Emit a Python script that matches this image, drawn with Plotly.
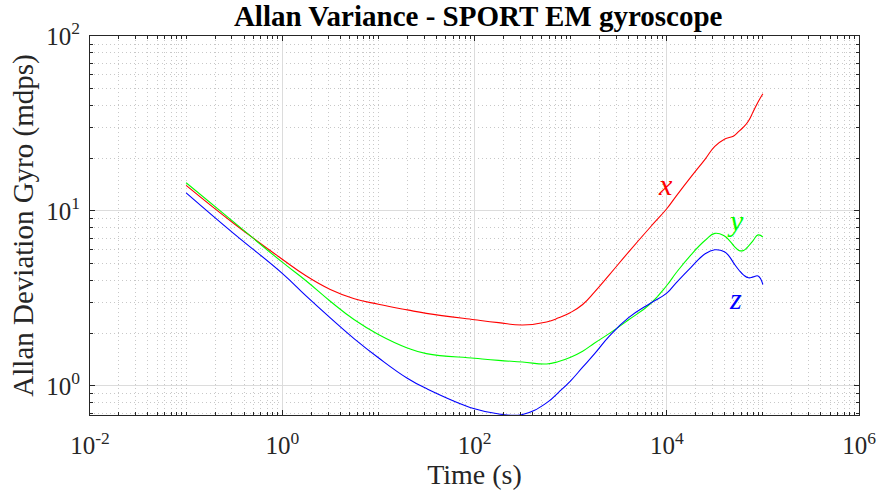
import plotly.graph_objects as go

# ---- data ----
tau = [0.1, 0.316, 1, 1.78, 3.16, 5.62, 10, 20, 31.6, 100, 178, 316, 562, 750, 1000, 1334, 1778,
       2512, 3981, 6761, 10000, 12589, 17783, 25119, 31623, 39811, 44668,
       50119, 56234, 63096, 70795, 79433, 89125, 100000]
adev_x = [14.0, 8.45, 5.3, 4.25, 3.56, 3.15, 2.93, 2.72, 2.60, 2.39, 2.30, 2.23, 2.32, 2.45, 2.63, 2.92, 3.45,
          4.3, 5.8, 8.1, 10.3, 12.2, 15.6, 19.8, 23.4, 25.7, 26.3,
          26.9, 28.5, 30.2, 32.7, 37.0, 42.0, 46.8]
adev_y = [14.5, 8.6, 5.1, 3.98, 3.05, 2.39, 1.97, 1.65, 1.53, 1.44, 1.40, 1.37, 1.335, 1.38, 1.46, 1.58, 1.76,
          1.99, 2.38, 2.95, 3.75, 4.45, 5.6, 6.8, 7.45, 7.2, 6.8,
          6.3, 5.95, 5.95, 6.3, 6.8, 7.3, 7.1]
adev_z = [12.7, 7.4, 4.4, 3.26, 2.45, 1.86, 1.45, 1.107, 0.966, 0.74, 0.692, 0.687, 0.80, 0.92, 1.07, 1.28, 1.53,
          1.92, 2.45, 2.97, 3.39, 3.9, 4.75, 5.7, 6.0, 5.85, 5.5,
          5.0, 4.6, 4.3, 4.15, 4.2, 4.25, 3.8]

x_major = [1e-2, 1e0, 1e2, 1e4, 1e6]
x_major_text = ["10<sup>-2</sup>", "10<sup>0</sup>", "10<sup>2</sup>", "10<sup>4</sup>", "10<sup>6</sup>"]
y_major = [1e0, 1e1, 1e2]
y_major_text = ["10<sup>0</sup>", "10<sup>1</sup>", "10<sup>2</sup>"]

title_text = "Allan Variance - SPORT EM gyroscope"
x_title = "Time (s)"
y_title = "Allan Deviation Gyro (mdps)"

# minor tick values (all 1..9 x 10^d that are not majors)
x_minor = [k * 10.0 ** d for d in range(-2, 6) for k in range(1, 10)
           if not any(abs(k * 10.0 ** d - m) / m < 1e-9 for m in x_major)]
y_minor = [k * 10.0 ** d for d in range(-1, 2) for k in range(1, 10)
           if not any(abs(k * 10.0 ** d - m) / m < 1e-9 for m in y_major)]

FONT = "Liberation Serif"
AXC = "#262626"

fig = go.Figure()
for vals, col, nm in [(adev_x, "#ff0000", "x"), (adev_y, "#00ff00", "y"), (adev_z, "#0000ff", "z")]:
    fig.add_trace(go.Scatter(x=tau, y=vals, mode="lines", name=nm,
                             line=dict(color=col, width=1.1, shape="spline", smoothing=1.3)))

for txt, col, ax_, ay_ in [("x", "#ff0000", 3.99, 1.15), ("y", "#00ff00", 4.71, 0.945),
                           ("z", "#0000ff", 4.71, 0.50)]:
    fig.add_annotation(x=ax_, y=ay_, xref="x", yref="y", text="<i>%s</i>" % txt,
                       showarrow=False, font=dict(family=FONT, size=30, color=col))

axis_common = dict(
    showline=True, linecolor=AXC, linewidth=1, mirror="allticks",
    ticks="inside", ticklen=5, tickcolor=AXC,
    showgrid=True, gridcolor="#dcdcdc", gridwidth=1,
    tickfont=dict(family=FONT, size=25, color=AXC),
    zeroline=False,
)

minor_common = dict(tickmode="array", ticks="inside", ticklen=3, tickcolor=AXC,
                    showgrid=True, gridcolor="#c8c8c8", griddash="1px,3px")

fig.update_layout(
    width=888, height=497,
    margin=dict(l=90, r=21, t=36, b=82),
    paper_bgcolor="white", plot_bgcolor="white",
    showlegend=False,
    title=dict(text="<b>%s</b>" % title_text, x=0.5385, xanchor="center", y=0.968, yanchor="middle",
               font=dict(family=FONT, size=29, color="black")),
    xaxis=dict(type="log", range=[-2, 6], tickmode="array", tickvals=x_major, ticktext=x_major_text,
               ticklabelstandoff=8,
               title=dict(text=x_title, font=dict(family=FONT, size=28, color=AXC), standoff=4),
               minor=dict(tickvals=x_minor, **minor_common),
               **axis_common),
    yaxis=dict(type="log", range=[-0.166, 2], tickmode="array", tickvals=y_major, ticktext=y_major_text,
               ticklabelstandoff=4,
               title=dict(text=y_title, font=dict(family=FONT, size=29, color=AXC), standoff=4),
               minor=dict(tickvals=y_minor, **minor_common),
               **axis_common),
)

fig.write_html("out.html")
